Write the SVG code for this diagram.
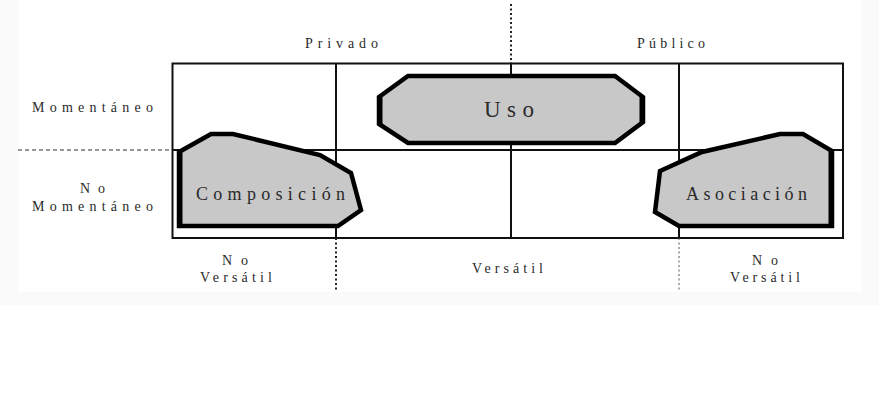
<svg xmlns="http://www.w3.org/2000/svg" width="879" height="400" viewBox="0 0 879 400">
<style>
.t{font-family:"Liberation Serif","DejaVu Serif",serif;fill:#2a2a2a;font-size:14px}
.big{font-size:18px}
.huge{font-size:23px}
.grid{stroke:#111;stroke-width:2;fill:none}
.shape{fill:#c8c8c8;stroke:#000;stroke-width:4.5;stroke-linejoin:miter}
.edge{stroke:#000;stroke-width:3;fill:none}
</style>
<rect x="0" y="0" width="879" height="305" fill="#fafafa"/>
<rect x="18" y="0" width="844" height="292" fill="#fff"/>
<g id="connectors">
  <rect class="grid" x="172.5" y="63.5" width="670.5" height="174.5"/>
  <line class="grid" x1="336" y1="63.5" x2="336" y2="238"/>
  <line class="grid" x1="511" y1="63.5" x2="511" y2="238"/>
  <line class="grid" x1="679" y1="63.5" x2="679" y2="238"/>
  <line class="grid" x1="172.5" y1="150" x2="843" y2="150"/>
  <line x1="18" y1="150" x2="172" y2="150" stroke="#333" stroke-width="1.2" stroke-dasharray="4,3"/>
  <line x1="511" y1="4" x2="511" y2="63" stroke="#222" stroke-width="2" stroke-dasharray="2,2.5"/>
  <line x1="336" y1="238" x2="336" y2="292" stroke="#222" stroke-width="2" stroke-dasharray="2,2.5"/>
  <line x1="679" y1="238" x2="679" y2="292" stroke="#555" stroke-width="1" stroke-dasharray="2,2.5"/>
</g>
<g id="uso">
  <polygon class="shape" points="379,97 408,76 615,76 643,97 643,122 615,143 408,143 379,124"/>
  <line class="edge" x1="381" y1="97" x2="381" y2="124"/>
  <line class="edge" x1="641" y1="97" x2="641" y2="122"/>
  <text class="t huge" x="484" y="117" textLength="50" lengthAdjust="spacing">Uso</text>
</g>
<g id="composicion">
  <polygon class="shape" points="179,152 211,134 233,134 320,155 351,173 361,210 338,226 179,226"/>
  <line class="edge" x1="181" y1="152" x2="181" y2="226"/>
  <text class="t big" x="196" y="200" textLength="149" lengthAdjust="spacing">Composición</text>
</g>
<g id="asociacion">
  <polygon class="shape" points="660,171 702,152 780,134 803,134 832,151 832,226 679,226 655,212"/>
  <line class="edge" x1="830" y1="151" x2="830" y2="226"/>
  <text class="t big" x="686" y="200" textLength="121" lengthAdjust="spacing">Asociación</text>
</g>
<g id="labels">
  <text class="t" x="305" y="48" textLength="73" lengthAdjust="spacing">Privado</text>
  <text class="t" x="637" y="48" textLength="68" lengthAdjust="spacing">Público</text>
  <text class="t" x="32" y="112" textLength="121" lengthAdjust="spacing">Momentáneo</text>
  <text class="t" x="80" y="193" textLength="25" lengthAdjust="spacing">No</text>
  <text class="t" x="32" y="211" textLength="121" lengthAdjust="spacing">Momentáneo</text>
  <text class="t" x="222" y="265" textLength="26" lengthAdjust="spacing">No</text>
  <text class="t" x="200" y="282" textLength="72" lengthAdjust="spacing">Versátil</text>
  <text class="t" x="472" y="273" textLength="71" lengthAdjust="spacing">Versátil</text>
  <text class="t" x="752" y="265" textLength="26" lengthAdjust="spacing">No</text>
  <text class="t" x="730" y="282" textLength="70" lengthAdjust="spacing">Versátil</text>
</g>
</svg>
